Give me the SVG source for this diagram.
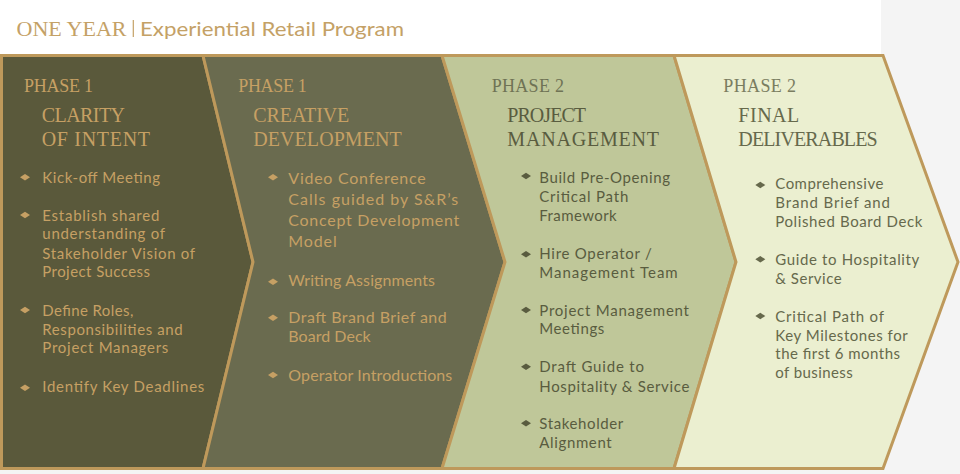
<svg xmlns="http://www.w3.org/2000/svg" width="960" height="474" viewBox="0 0 960 474">
<style>
.bd{stroke:#be995b;stroke-width:3;stroke-linejoin:miter}
.hd{font-family:"Liberation Serif",serif;}
.ph{font-size:18px}
.tt{font-size:20px}
.b{font-family:Lato,"Open Sans",sans-serif;font-size:15px}
.b2{font-size:16px}
.gold{fill:#c6a064}
.d3{fill:#595c3f}
.p3{fill:#6f7355}
.d4{fill:#66694c}
.p4{fill:#7a7d60}
</style>
<defs>
<path id="dia" d="M-5,0 L0,-3.3 L5,0 L0,3.3 Z"/>
</defs>
<rect x="0" y="0" width="960" height="474" fill="#f4f4f4"/>
<rect x="0" y="0" width="881" height="55" fill="#ffffff"/>
<g id="title">
<text class="hd" x="16.5" y="35.7" font-size="21" fill="#c4a166" textLength="110" lengthAdjust="spacingAndGlyphs">ONE YEAR</text>
<line x1="133.3" y1="20" x2="133.3" y2="37" stroke="#c4a166" stroke-width="1.2"/>
<text x="140" y="35.7" font-family="Lato,'Open Sans',sans-serif" font-size="20" fill="#c4a166" textLength="264" lengthAdjust="spacingAndGlyphs">Experiential Retail Program</text>
</g>
<g id="phase1-clarity">
<path class="bd" fill="#5a593b" d="M1.5,55.5 L203,55.5 L253,262 L203,468.5 L1.5,468.5 Z"/>
<text class="hd ph gold" x="24" y="92.3" textLength="69">PHASE 1</text>
<text class="hd tt gold" x="41.7" y="122.3" textLength="83.3">CLARITY</text>
<text class="hd tt gold" x="41.7" y="145.7" textLength="108.3">OF INTENT</text>
<g class="gold">
<use href="#dia" x="25" y="177.3"/><use href="#dia" x="25" y="215"/><use href="#dia" x="25" y="310"/><use href="#dia" x="25" y="387.7"/>
</g>
<g class="b gold">
<text x="42.3" y="182.7" textLength="117.7">Kick-off Meeting</text>
<text x="42.3" y="220.7" textLength="117">Establish shared</text>
<text x="42.3" y="239.3" textLength="122.7">understanding of</text>
<text x="42.3" y="258.7" textLength="152.7">Stakeholder Vision of</text>
<text x="42.3" y="277.3" textLength="107.7">Project Success</text>
<text x="42.3" y="315.7" textLength="91">Define Roles,</text>
<text x="42.3" y="334.7" textLength="140.4">Responsibilities and</text>
<text x="42.3" y="353.3" textLength="126">Project Managers</text>
<text x="42.3" y="391.7" textLength="162">Identify Key Deadlines</text>
</g>
</g>
<g id="phase1-creative">
<path class="bd" fill="#6a6b4f" d="M203,55.5 L442,55.5 L505,262 L442,468.5 L203,468.5 L253,262 Z"/>
<text class="hd ph gold" x="238.3" y="92.3" textLength="68.4">PHASE 1</text>
<text class="hd tt gold" x="253.3" y="122.3" textLength="96">CREATIVE</text>
<text class="hd tt gold" x="253.3" y="145.7" textLength="148.4">DEVELOPMENT</text>
<g class="gold">
<use href="#dia" x="273" y="177.3"/><use href="#dia" x="273" y="281.7"/><use href="#dia" x="273" y="317.7"/><use href="#dia" x="273" y="375"/>
</g>
<g class="b b2 gold">
<text x="288.3" y="184" textLength="137.4">Video Conference</text>
<text x="288.3" y="205" textLength="170">Calls guided by S&amp;R’s</text>
<text x="288.3" y="226" textLength="171">Concept Development</text>
<text x="288.3" y="246.7" textLength="48.4">Model</text>
<text x="288.3" y="286" textLength="146.7">Writing Assignments</text>
<text x="288.3" y="323.3" textLength="158.4">Draft Brand Brief and</text>
<text x="288.3" y="342.3" textLength="82.4">Board Deck</text>
<text x="288.3" y="380.7" textLength="164">Operator Introductions</text>
</g>
</g>
<g id="phase2-project">
<path class="bd" fill="#bfc799" d="M442,55.5 L674,55.5 L736,262 L674,468.5 L442,468.5 L505,262 Z"/>
<text class="hd ph p3" x="491.7" y="92.3" textLength="72.3">PHASE 2</text>
<text class="hd tt d3" x="507.3" y="122.3" textLength="78.7">PROJECT</text>
<text class="hd tt d3" x="507.3" y="145.7" textLength="151.7">MANAGEMENT</text>
<g class="d3">
<use href="#dia" x="526" y="176"/><use href="#dia" x="526" y="254.3"/><use href="#dia" x="526" y="310"/><use href="#dia" x="526" y="366.7"/><use href="#dia" x="526" y="423.3"/>
</g>
<g class="b d3">
<text x="539.3" y="182.7" textLength="130.7">Build Pre-Opening</text>
<text x="539.3" y="201.7" textLength="89">Critical Path</text>
<text x="539.3" y="220.7" textLength="77.4">Framework</text>
<text x="539.3" y="259" textLength="112.4">Hire Operator /</text>
<text x="539.3" y="277.7" textLength="138.4">Management Team</text>
<text x="539.3" y="315.7" textLength="149.7">Project Management</text>
<text x="539.3" y="334.3" textLength="65">Meetings</text>
<text x="539.3" y="372.3" textLength="104.7">Draft Guide to</text>
<text x="539.3" y="391.7" textLength="150">Hospitality &amp; Service</text>
<text x="539.3" y="429.3" textLength="84">Stakeholder</text>
<text x="539.3" y="448.3" textLength="72.4">Alignment</text>
</g>
</g>
<g id="phase2-final">
<path class="bd" fill="#ebefd0" d="M674,55.5 L883,55.5 L958,262 L883,468.5 L674,468.5 L736,262 Z"/>
<text class="hd ph p4" x="723.3" y="92.3" textLength="72.7">PHASE 2</text>
<text class="hd tt d4" x="738.3" y="122.3" textLength="61">FINAL</text>
<text class="hd tt d4" x="738.3" y="145.7" textLength="139.4">DELIVERABLES</text>
<g class="d4">
<use href="#dia" x="760.3" y="185"/><use href="#dia" x="760.3" y="259.3"/><use href="#dia" x="760.3" y="316"/>
</g>
<g class="b d4">
<text x="775.3" y="189.3" textLength="108">Comprehensive</text>
<text x="775.3" y="208.3" textLength="114.7">Brand Brief and</text>
<text x="775.3" y="226.7" textLength="147">Polished Board Deck</text>
<text x="775.3" y="265" textLength="144">Guide to Hospitality</text>
<text x="775.3" y="284" textLength="66.4">&amp; Service</text>
<text x="775.3" y="321.7" textLength="108.7">Critical Path of</text>
<text x="775.3" y="340.7" textLength="132.4">Key Milestones for</text>
<text x="775.3" y="359.3" textLength="124.7">the first 6 months</text>
<text x="775.3" y="378.3" textLength="77.4">of business</text>
</g>
</g>
</svg>
